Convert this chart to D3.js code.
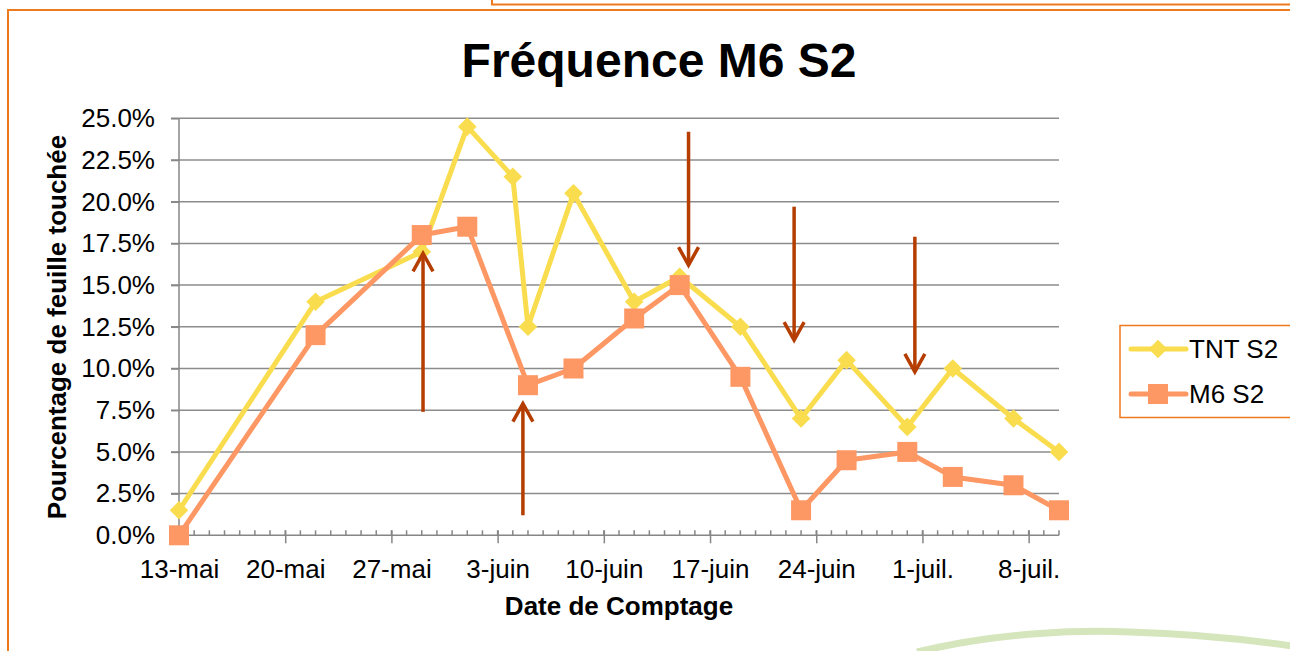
<!DOCTYPE html>
<html>
<head>
<meta charset="utf-8">
<script src="https://cdn.jsdelivr.net/npm/d3@7"></script>
<style>
  body { margin: 0; background: #fff; }
  svg { display: block; font-family: "Liberation Sans", Arial, sans-serif; }
</style>
</head>
<body>
<svg class="chart"></svg>
<script>
const W = 1290;
const H = 651;

// Data (dates of counting, % of leaves touched)
var dates = ["2013-05-13", "2013-05-22", "2013-05-29", "2013-06-01", "2013-06-04", "2013-06-05",
             "2013-06-08", "2013-06-12", "2013-06-15", "2013-06-19", "2013-06-23", "2013-06-26",
             "2013-06-30", "2013-07-03", "2013-07-07", "2013-07-10"];
var tntS2 = [1.5, 14, 17, 24.5, 21.5, 12.5, 20.5, 14, 15.5, 12.5, 7, 10.5, 6.5, 10, 7, 5];
var m6S2  = [0, 12, 18, 18.5, null, 9, 10, 13, 15, 9.5, 1.5, 4.5, 5, 3.5, 3, 1.5];

var xTickDates  = ["2013-05-13", "2013-05-20", "2013-05-27", "2013-06-03", "2013-06-10",
                   "2013-06-17", "2013-06-24", "2013-07-01", "2013-07-08"];
var xTickLabels = ["13-mai", "20-mai", "27-mai", "3-juin", "10-juin", "17-juin", "24-juin", "1-juil.", "8-juil."];
var yTicks = [0, 2.5, 5, 7.5, 10, 12.5, 15, 17.5, 20, 22.5, 25];

// annotation arrows: date, start value, tip value
var arrowDates = ["2013-05-29T02:00", "2013-06-04T16:00", "2013-06-15T14:00", "2013-06-22T13:00", "2013-06-30T12:00"];
var arrowFrom  = [7.4, 1.2, 24.2, 19.7, 17.9];
var arrowTo    = [16.9, 7.9, 16.2, 11.7, 9.8];

var parse = d3.isoParse;

var svg = d3.select(".chart")
    .attr("width", W)
    .attr("height", H);

// frames
svg.append("rect").attr("x", 492).attr("y", -5).attr("width", 810).attr("height", 9.5)
    .attr("fill", "none").attr("stroke", "#EE7A1E").attr("stroke-width", 2);
svg.append("rect").attr("x", 8).attr("y", 10).attr("width", 1300).attr("height", 700)
    .attr("fill", "#fff").attr("stroke", "#EE7A1E").attr("stroke-width", 2);

// green swoosh
svg.append("path")
    .attr("d", "M917,652 C1000,632 1080,630 1130,632 C1200,634 1250,640 1292,646")
    .attr("fill", "none").attr("stroke", "#D5E6BC").attr("stroke-width", 7);

var x = d3.scaleTime()
    .domain([parse("2013-05-13"), parse("2013-07-10")])
    .range([179, 1059]);
var y = d3.scaleLinear()
    .domain([0, 25])
    .range([535.3, 118.3]);

// gridlines
svg.append("g").selectAll("line").data(yTicks.slice(1)).join("line")
    .attr("x1", 171).attr("x2", 1059)
    .attr("y1", d => y(d)).attr("y2", d => y(d))
    .attr("stroke", "#8C8C8C").attr("stroke-width", 1.5);

// Y axis
var yAxis = svg.append("g")
    .attr("transform", "translate(179,0)")
    .call(d3.axisLeft(y).tickValues(yTicks).tickSize(8).tickPadding(16)
        .tickFormat(d => d.toFixed(1) + "%"));
yAxis.selectAll("path,line").attr("stroke", "#868686").attr("stroke-width", 1.5);
yAxis.select(".domain").attr("d", "M0," + y(0) + "V" + y(25));
yAxis.selectAll("text").style("font-size", "26px").attr("fill", "#000")
    .attr("font-family", "Liberation Sans, Arial, sans-serif");

// X axis: minor ticks every day, major every week
var x0 = y(0);
var minor = d3.timeDay.range(parse("2013-05-13"), d3.timeDay.offset(parse("2013-07-10"), 1));
svg.append("g").selectAll("line").data(minor).join("line")
    .attr("x1", d => x(d)).attr("x2", d => x(d))
    .attr("y1", x0 - 5).attr("y2", x0)
    .attr("stroke", "#868686").attr("stroke-width", 1.5);

var xAxis = svg.append("g")
    .attr("transform", "translate(0," + x0 + ")")
    .call(d3.axisBottom(x).tickValues(xTickDates.map(parse)).tickSize(8).tickPadding(16)
        .tickFormat((d, i) => xTickLabels[i]));
xAxis.selectAll("path,line").attr("stroke", "#868686").attr("stroke-width", 1.5);
xAxis.select(".domain").attr("d", "M179,0H1059");
xAxis.selectAll(".tick line").attr("y1", -5);
xAxis.selectAll("text").style("font-size", "26px").attr("fill", "#000")
    .attr("font-family", "Liberation Sans, Arial, sans-serif");

// titles
svg.append("text").attr("x", 659).attr("y", 77).attr("text-anchor", "middle")
    .style("font-size", "48px").style("font-weight", "bold").text("Fréquence M6 S2");
svg.append("text").attr("x", 619).attr("y", 615).attr("text-anchor", "middle")
    .style("font-size", "26px").style("font-weight", "bold").text("Date de Comptage");
svg.append("text").attr("transform", "translate(66,327) rotate(-90)").attr("text-anchor", "middle")
    .style("font-size", "26px").style("font-weight", "bold").text("Pourcentage de feuille touchée");

// series
var tntColor = "#F9DD4E";
var m6Color = "#FD9865";
var line = d3.line().x(d => x(d.date)).y(d => y(d.v));

var tnt = dates.map((d, i) => ({date: parse(d), v: tntS2[i]}));
var m6 = dates.map((d, i) => ({date: parse(d), v: m6S2[i]})).filter(d => d.v !== null);

svg.append("path").datum(tnt).attr("d", line)
    .attr("fill", "none").attr("stroke", tntColor).attr("stroke-width", 5).attr("stroke-linejoin", "round");
svg.append("g").selectAll("path").data(tnt).join("path")
    .attr("d", d3.symbol(d3.symbolDiamond2, 220))
    .attr("transform", d => "translate(" + x(d.date) + "," + y(d.v) + ")")
    .attr("fill", tntColor);

svg.append("path").datum(m6).attr("d", line)
    .attr("fill", "none").attr("stroke", m6Color).attr("stroke-width", 5).attr("stroke-linejoin", "round");
svg.append("g").selectAll("rect").data(m6).join("rect")
    .attr("x", d => x(d.date) - 10).attr("y", d => y(d.v) - 10)
    .attr("width", 20).attr("height", 20)
    .attr("fill", m6Color);

// arrows
var arrowColor = "#B53D00";
var arrows = svg.append("g").attr("stroke", arrowColor).attr("stroke-width", 3.5).attr("fill", "none");
arrowDates.forEach(function(d, i) {
    var ax = x(parse(d));
    var y1 = y(arrowFrom[i]);
    var y2 = y(arrowTo[i]);
    var dir = y2 < y1 ? 1 : -1; // head points up or down
    arrows.append("line").attr("x1", ax).attr("x2", ax).attr("y1", y1).attr("y2", y2 + dir * 1);
    arrows.append("path")
        .attr("d", "M" + (ax - 10) + "," + (y2 + dir * 18) + "L" + ax + "," + y2 + "L" + (ax + 10) + "," + (y2 + dir * 18))
        .attr("stroke-linejoin", "miter");
});

// legend
var legend = svg.append("g");
legend.append("rect").attr("x", 1120).attr("y", 325.5).attr("width", 200).attr("height", 92)
    .attr("fill", "#fff").attr("stroke", "#EE7A1E").attr("stroke-width", 1.5);
var legendItems = [{name: "TNT S2", color: tntColor, y: 349}, {name: "M6 S2", color: m6Color, y: 394}];
legendItems.forEach(function(it, i) {
    legend.append("line").attr("x1", 1131).attr("x2", 1186).attr("y1", it.y).attr("y2", it.y)
        .attr("stroke", it.color).attr("stroke-width", 5).attr("stroke-linecap", "round");
    if (i === 0) {
        legend.append("path").attr("d", d3.symbol(d3.symbolDiamond2, 220))
            .attr("transform", "translate(1158," + it.y + ")").attr("fill", it.color);
    } else {
        legend.append("rect").attr("x", 1148).attr("y", it.y - 10).attr("width", 20).attr("height", 20)
            .attr("fill", it.color);
    }
    legend.append("text").attr("x", 1189).attr("y", it.y + 9).style("font-size", "26px").text(it.name);
});
</script>
</body>
</html>
